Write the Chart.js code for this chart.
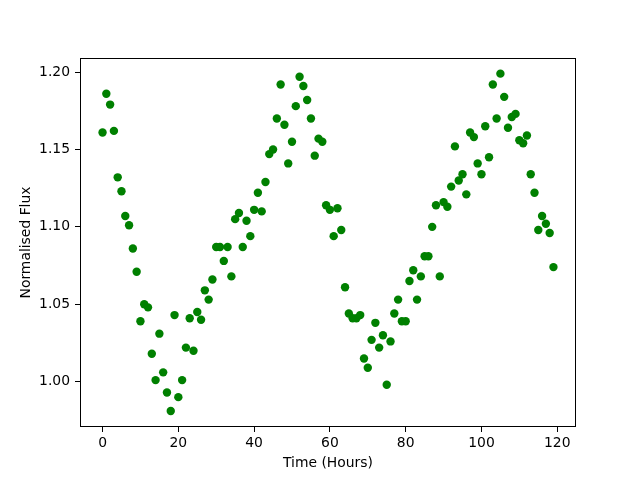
<!DOCTYPE html>
<html>
<head>
<meta charset="utf-8">
<title>Normalised Flux</title>
<script src="https://cdn.jsdelivr.net/npm/chart.js@4"></script>
<style>
  body { margin: 0; background: #fff; }
</style>
</head>
<body>
<canvas id="fluxChart" width="640" height="480"></canvas>
<script>
// time in hours, one reading per hour
var hours = [0, 1, 2, 3, 4, 5, 6, 7, 8, 9, 10, 11, 12, 13, 14, 15, 16, 17, 18, 19,
  20, 21, 22, 23, 24, 25, 26, 27, 28, 29, 30, 31, 32, 33, 34, 35, 36, 37, 38, 39,
  40, 41, 42, 43, 44, 45, 46, 47, 48, 49, 50, 51, 52, 53, 54, 55, 56, 57, 58, 59,
  60, 61, 62, 63, 64, 65, 66, 67, 68, 69, 70, 71, 72, 73, 74, 75, 76, 77, 78, 79,
  80, 81, 82, 83, 84, 85, 86, 87, 88, 89, 90, 91, 92, 93, 94, 95, 96, 97, 98, 99,
  100, 101, 102, 103, 104, 105, 106, 107, 108, 109, 110, 111, 112, 113, 114, 115, 116, 117, 118, 119];

var flux = [1.161, 1.186, 1.179, 1.162, 1.132, 1.123, 1.107, 1.101, 1.086, 1.071,
  1.039, 1.050, 1.048, 1.018, 1.001, 1.031, 1.006, 0.993, 0.981, 1.043,
  0.990, 1.001, 1.022, 1.041, 1.020, 1.045, 1.040, 1.059, 1.053, 1.066,
  1.087, 1.087, 1.078, 1.087, 1.068, 1.105, 1.109, 1.087, 1.104, 1.094,
  1.111, 1.122, 1.110, 1.129, 1.147, 1.150, 1.170, 1.192, 1.166, 1.141,
  1.155, 1.178, 1.197, 1.191, 1.182, 1.170, 1.146, 1.157, 1.155, 1.114,
  1.111, 1.094, 1.112, 1.098, 1.061, 1.044, 1.041, 1.041, 1.043, 1.015,
  1.009, 1.027, 1.038, 1.022, 1.030, 0.998, 1.026, 1.044, 1.053, 1.039,
  1.039, 1.065, 1.072, 1.053, 1.068, 1.081, 1.081, 1.100, 1.114, 1.068,
  1.116, 1.113, 1.126, 1.152, 1.130, 1.134, 1.121, 1.161, 1.158, 1.141,
  1.134, 1.165, 1.145, 1.192, 1.170, 1.199, 1.184, 1.164, 1.171, 1.173,
  1.156, 1.154, 1.159, 1.134, 1.122, 1.098, 1.107, 1.102, 1.096, 1.074];

var xTicks = [0, 20, 40, 60, 80, 100, 120];
var yTicks = [1.00, 1.05, 1.10, 1.15, 1.20];

var points = hours.map(function (h, i) { return { x: h, y: flux[i] }; });

// matplotlib style frame round the plot area
var frame = {
  id: 'frame',
  afterDraw: function (chart) {
    var a = chart.chartArea, ctx = chart.ctx;
    ctx.save();
    ctx.strokeStyle = '#000';
    ctx.lineWidth = 1;
    ctx.strokeRect(a.left + 0.5, a.top + 0.5, a.right - a.left - 1, a.bottom - a.top - 1);
    ctx.restore();
  }
};

var font = { family: 'DejaVu Sans', size: 13.9 };

new Chart(document.getElementById('fluxChart'), {
  type: 'scatter',
  data: {
    datasets: [{
      data: points,
      backgroundColor: '#008000',
      borderColor: '#008000',
      pointRadius: 4.2,
      borderWidth: 0
    }]
  },
  options: {
    responsive: false,
    animation: false,
    layout: { padding: { top: 58, right: 64, bottom: 0, left: 0 } },
    plugins: { legend: { display: false }, tooltip: { enabled: false } },
    scales: {
      x: {
        type: 'linear',
        min: -5.95,
        max: 124.95,
        afterBuildTicks: function (s) { s.ticks = xTicks.map(function (v) { return { value: v }; }); },
        afterFit: function (s) { s.height = 53; },
        grid: { drawOnChartArea: false, drawTicks: true, tickLength: 5, color: '#000' },
        border: { display: false },
        ticks: { color: '#000', font: font, padding: 3, maxRotation: 0 },
        title: { display: true, text: 'Time (Hours)', color: '#000', font: font, padding: { top: 0, bottom: 8 } }
      },
      y: {
        type: 'linear',
        min: 0.9707,
        max: 1.2091,
        afterBuildTicks: function (s) { s.ticks = yTicks.map(function (v) { return { value: v }; }); },
        afterFit: function (s) { s.width = 80; },
        grid: { drawOnChartArea: false, drawTicks: true, tickLength: 5, color: '#000' },
        border: { display: false },
        ticks: {
          color: '#000', font: font, padding: 5,
          callback: function (v) { return Number(v).toFixed(2); }
        },
        title: { display: true, text: 'Normalised Flux', color: '#000', font: font, padding: { top: 18, bottom: 0 } }
      }
    }
  },
  plugins: [frame]
});
</script>
</body>
</html>
